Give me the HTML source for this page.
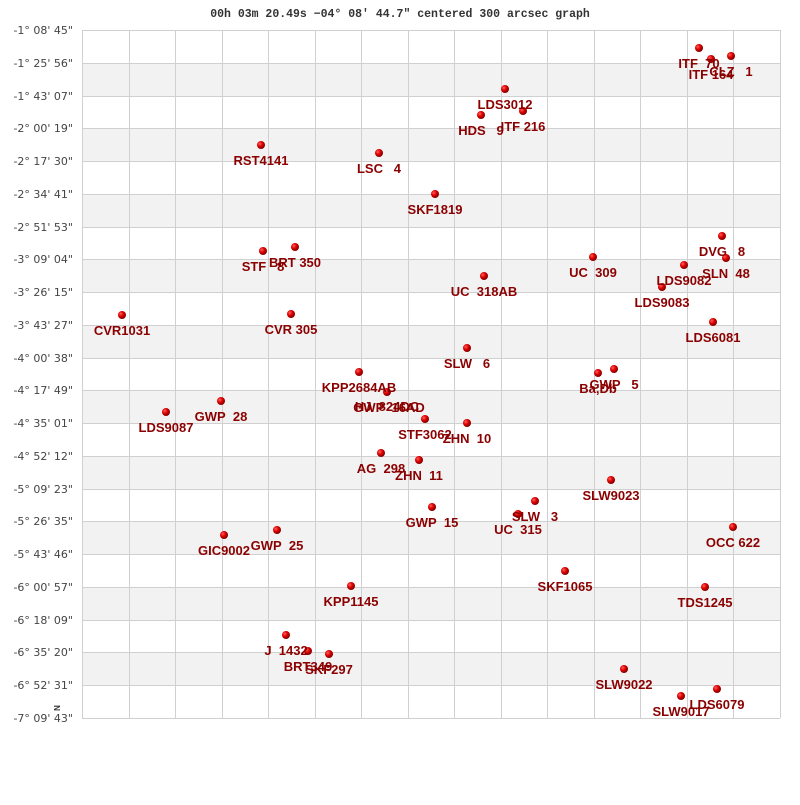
<!DOCTYPE html>
<html><head><meta charset="utf-8"><style>body{margin:0;background:#fff}</style></head><body>
<svg width="800" height="800" xmlns="http://www.w3.org/2000/svg" font-family="Liberation Sans, sans-serif">
<defs><radialGradient id="g" cx="35%" cy="35%" r="65%"><stop offset="0" stop-color="#ff6060"/><stop offset="0.5" stop-color="#e00000"/><stop offset="1" stop-color="#800000"/></radialGradient></defs>
<rect width="800" height="800" fill="#fff"/>
<g fill="#f2f2f2">
<rect x="82" y="63" width="698" height="33"/><rect x="82" y="128" width="698" height="33"/><rect x="82" y="194" width="698" height="33"/><rect x="82" y="259" width="698" height="33"/><rect x="82" y="325" width="698" height="33"/><rect x="82" y="390" width="698" height="33"/><rect x="82" y="456" width="698" height="33"/><rect x="82" y="521" width="698" height="33"/><rect x="82" y="587" width="698" height="33"/><rect x="82" y="652" width="698" height="33"/>
</g>
<g stroke="#d0d0d0" stroke-width="1">
<path d="M82.5 30V718M129.5 30V718M175.5 30V718M222.5 30V718M268.5 30V718M315.5 30V718M361.5 30V718M408.5 30V718M454.5 30V718M501.5 30V718M547.5 30V718M594.5 30V718M640.5 30V718M687.5 30V718M733.5 30V718M780.5 30V718"/>
<path d="M82 30.5H780M82 63.5H780M82 96.5H780M82 128.5H780M82 161.5H780M82 194.5H780M82 227.5H780M82 259.5H780M82 292.5H780M82 325.5H780M82 358.5H780M82 390.5H780M82 423.5H780M82 456.5H780M82 489.5H780M82 521.5H780M82 554.5H780M82 587.5H780M82 620.5H780M82 652.5H780M82 685.5H780M82 718.5H780"/>
</g>
<text x="400" y="17" text-anchor="middle" font-family="Liberation Mono, monospace" font-weight="bold" font-size="11.5" fill="#333">00h 03m 20.49s −04° 08′ 44.7″ centered 300 arcsec graph</text>
<g font-family="DejaVu Sans, sans-serif" font-size="11" fill="#444" text-anchor="end">
<text x="73" y="34">-1° 08' 45"</text><text x="73" y="67">-1° 25' 56"</text><text x="73" y="100">-1° 43' 07"</text><text x="73" y="132">-2° 00' 19"</text><text x="73" y="165">-2° 17' 30"</text><text x="73" y="198">-2° 34' 41"</text><text x="73" y="231">-2° 51' 53"</text><text x="73" y="263">-3° 09' 04"</text><text x="73" y="296">-3° 26' 15"</text><text x="73" y="329">-3° 43' 27"</text><text x="73" y="362">-4° 00' 38"</text><text x="73" y="394">-4° 17' 49"</text><text x="73" y="427">-4° 35' 01"</text><text x="73" y="460">-4° 52' 12"</text><text x="73" y="493">-5° 09' 23"</text><text x="73" y="525">-5° 26' 35"</text><text x="73" y="558">-5° 43' 46"</text><text x="73" y="591">-6° 00' 57"</text><text x="73" y="624">-6° 18' 09"</text><text x="73" y="656">-6° 35' 20"</text><text x="73" y="689">-6° 52' 31"</text><text x="73" y="722">-7° 09' 43"</text>
</g>
<text transform="translate(54,708) rotate(90)" text-anchor="middle" font-size="8" font-weight="bold" fill="#333">N</text>
<g fill="url(#g)">
<circle cx="699" cy="48" r="4"/><circle cx="731" cy="56" r="4"/><circle cx="711" cy="59" r="4"/><circle cx="505" cy="89" r="4"/><circle cx="523" cy="111" r="4"/><circle cx="481" cy="115" r="4"/><circle cx="261" cy="145" r="4"/><circle cx="379" cy="153" r="4"/><circle cx="435" cy="194" r="4"/><circle cx="722" cy="236" r="4"/><circle cx="295" cy="247" r="4"/><circle cx="263" cy="251" r="4"/><circle cx="593" cy="257" r="4"/><circle cx="726" cy="258" r="4"/><circle cx="684" cy="265" r="4"/><circle cx="484" cy="276" r="4"/><circle cx="662" cy="287" r="4"/><circle cx="122" cy="315" r="4"/><circle cx="291" cy="314" r="4"/><circle cx="713" cy="322" r="4"/><circle cx="467" cy="348" r="4"/><circle cx="359" cy="372" r="4"/><circle cx="614" cy="369" r="4"/><circle cx="598" cy="373" r="4"/><circle cx="221" cy="401" r="4"/><circle cx="166" cy="412" r="4"/><circle cx="387" cy="392" r="4"/><circle cx="425" cy="419" r="4"/><circle cx="467" cy="423" r="4"/><circle cx="381" cy="453" r="4"/><circle cx="419" cy="460" r="4"/><circle cx="611" cy="480" r="4"/><circle cx="432" cy="507" r="4"/><circle cx="535" cy="501" r="4"/><circle cx="518" cy="514" r="4"/><circle cx="733" cy="527" r="4"/><circle cx="277" cy="530" r="4"/><circle cx="224" cy="535" r="4"/><circle cx="565" cy="571" r="4"/><circle cx="351" cy="586" r="4"/><circle cx="705" cy="587" r="4"/><circle cx="286" cy="635" r="4"/><circle cx="308" cy="651" r="4"/><circle cx="329" cy="654" r="4"/><circle cx="624" cy="669" r="4"/><circle cx="717" cy="689" r="4"/><circle cx="681" cy="696" r="4"/>
</g>
<g font-size="13" font-weight="bold" fill="#8b0000" text-anchor="middle">
<text x="699" y="68">ITF&#160;&#160;70</text><text x="731" y="76">CLZ&#160;&#160;&#160;1</text><text x="711" y="79">ITF&#160;164</text><text x="505" y="109">LDS3012</text><text x="523" y="131">ITF&#160;216</text><text x="481" y="135">HDS&#160;&#160;&#160;9</text><text x="261" y="165">RST4141</text><text x="379" y="173">LSC&#160;&#160;&#160;4</text><text x="435" y="214">SKF1819</text><text x="722" y="256">DVG&#160;&#160;&#160;8</text><text x="295" y="267">BRT&#160;350</text><text x="263" y="271">STF&#160;&#160;&#160;8</text><text x="593" y="277">UC&#160;&#160;309</text><text x="726" y="278">SLN&#160;&#160;48</text><text x="684" y="285">LDS9082</text><text x="484" y="296">UC&#160;&#160;318AB</text><text x="662" y="307">LDS9083</text><text x="122" y="335">CVR1031</text><text x="291" y="334">CVR&#160;305</text><text x="713" y="342">LDS6081</text><text x="467" y="368">SLW&#160;&#160;&#160;6</text><text x="359" y="392">KPP2684AB</text><text x="614" y="389">GWP&#160;&#160;&#160;5</text><text x="598" y="393">Ba,Db</text><text x="221" y="421">GWP&#160;&#160;28</text><text x="166" y="432">LDS9087</text><text x="387" y="411">HJ&#160;&#160;824DC</text><text x="389" y="412">GWP&#160;&#160;16AD</text><text x="425" y="439">STF3062</text><text x="467" y="443">ZHN&#160;&#160;10</text><text x="381" y="473">AG&#160;&#160;298</text><text x="419" y="480">ZHN&#160;&#160;11</text><text x="611" y="500">SLW9023</text><text x="432" y="527">GWP&#160;&#160;15</text><text x="535" y="521">SLW&#160;&#160;&#160;3</text><text x="518" y="534">UC&#160;&#160;315</text><text x="733" y="547">OCC&#160;622</text><text x="277" y="550">GWP&#160;&#160;25</text><text x="224" y="555">GIC9002</text><text x="565" y="591">SKF1065</text><text x="351" y="606">KPP1145</text><text x="705" y="607">TDS1245</text><text x="286" y="655">J&#160;&#160;1432</text><text x="308" y="671">BRT349</text><text x="329" y="674">SKF297</text><text x="624" y="689">SLW9022</text><text x="717" y="709">LDS6079</text><text x="681" y="716">SLW9017</text>
</g>
</svg>
</body></html>
